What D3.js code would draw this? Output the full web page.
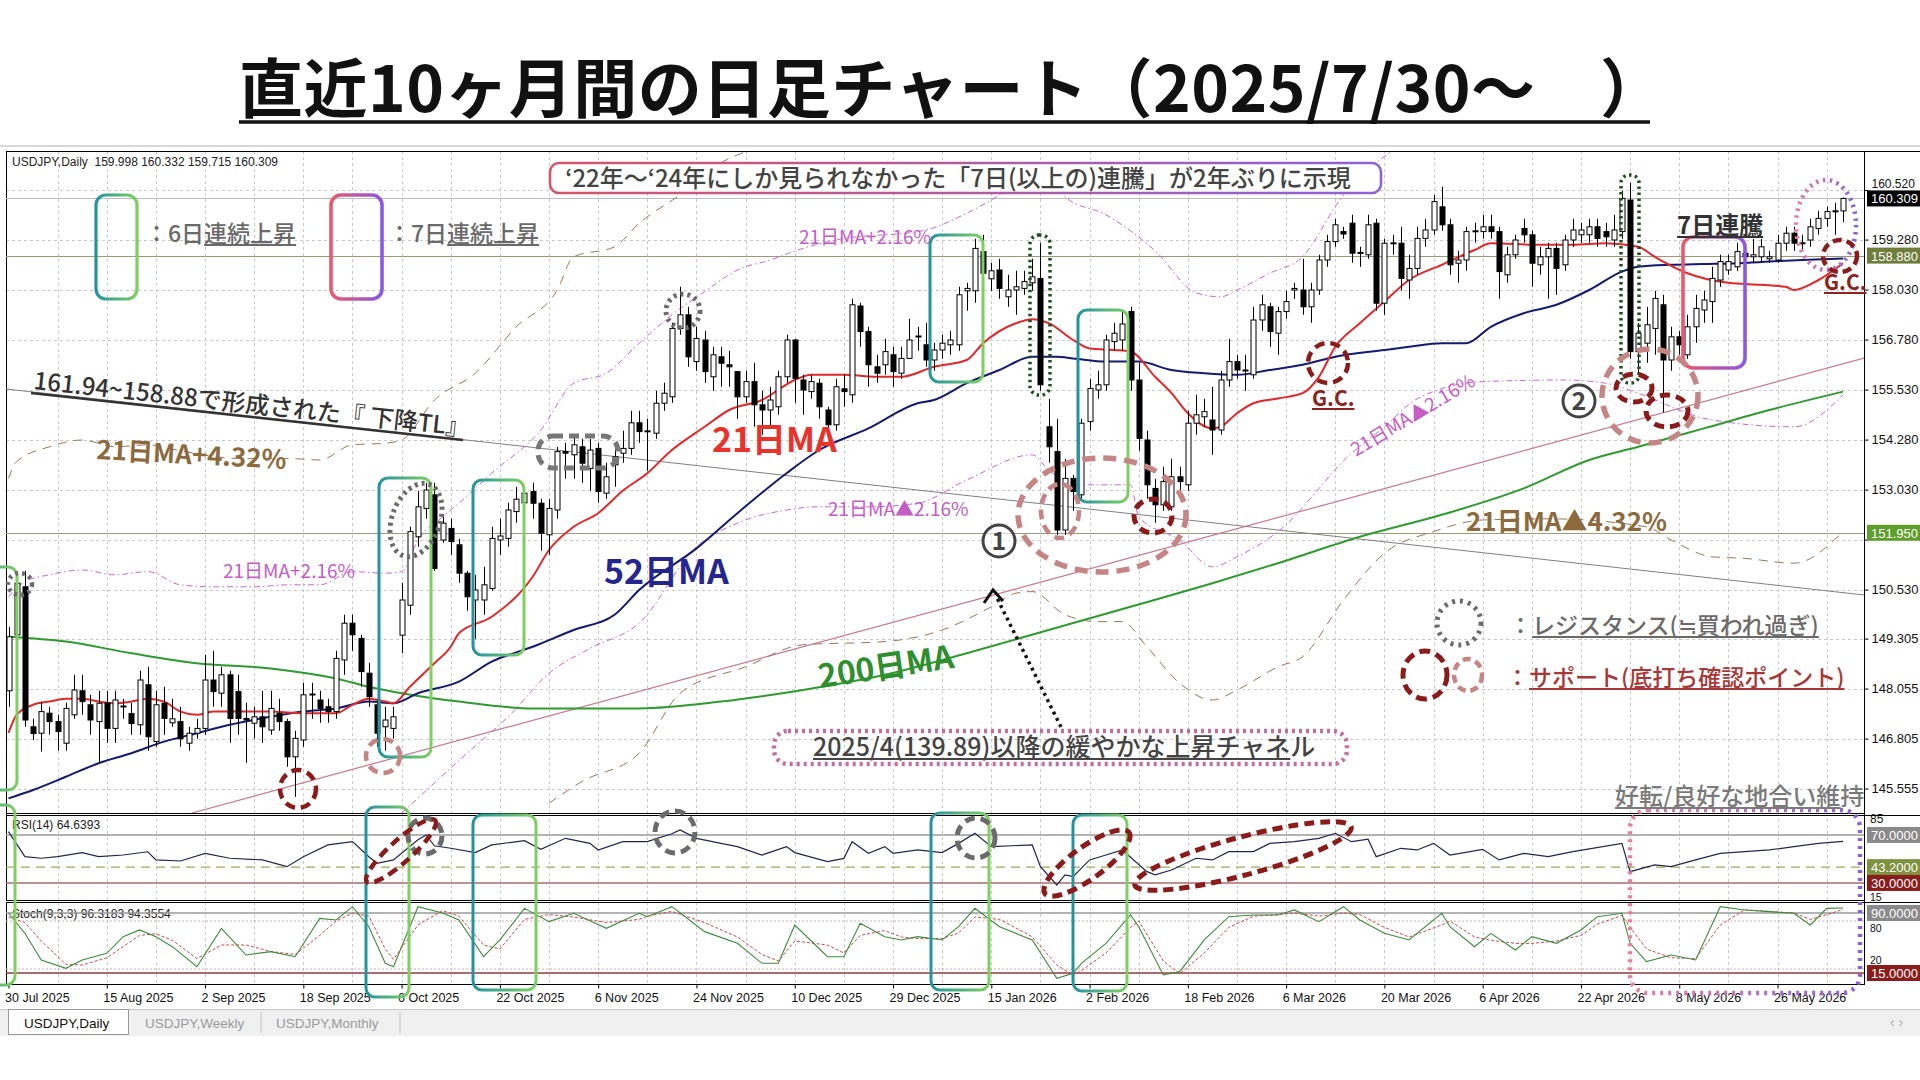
<!DOCTYPE html>
<html>
<head>
<meta charset="utf-8">
<script src="https://cdn.jsdelivr.net/npm/d3@7/dist/d3.min.js"></script>
<style>
  body { margin: 0; background: #fff; }
  svg { display: block; }
</style>
</head>
<body>
<svg id="chart" width="1920" height="1080"></svg>
<script>
// ---- data ----
const dateTicks = ["30 Jul 2025","15 Aug 2025","2 Sep 2025","18 Sep 2025","6 Oct 2025","22 Oct 2025","6 Nov 2025","24 Nov 2025","10 Dec 2025","29 Dec 2025","15 Jan 2026","2 Feb 2026","18 Feb 2026","6 Mar 2026","20 Mar 2026","6 Apr 2026","22 Apr 2026","8 May 2026","26 May 2026"];
const dateTickBars = [0,12,24,36,48,60,72,84,96,108,120,132,144,156,168,180,192,204,216];
const priceTicks = [160.52,159.28,158.03,156.78,155.53,154.28,153.03,151.78,150.53,149.305,148.055,146.805,145.555];
const lastPrice = 160.309;
const keyLevels = [158.88, 151.95];
const rsiLevels = [70, 43.2, 30];
const stochLevels = [90, 80, 20, 15];

// [open, high, low, close] per daily bar
const candles = [
[148.0,149.6,147.6,149.35],[149.4,150.9,149.3,150.69],[150.6,151.0,147.1,147.27],[147.1,147.3,146.77,146.93],[146.94,147.73,146.48,147.48],
[147.44,147.6,146.9,147.23],[147.23,147.4,146.5,146.98],[146.69,147.7,146.5,147.56],[147.4,148.4,147.3,148.02],[148.0,148.4,147.4,147.73],
[147.65,147.9,146.9,147.27],[147.23,148.0,146.19,147.69],[147.7,148.0,146.7,147.06],[147.06,148.0,146.7,147.77],[147.6,147.8,147.3,147.62],
[147.43,147.7,146.9,147.18],[147.15,148.5,146.9,148.27],[148.15,148.6,146.5,146.85],[146.73,148.0,146.6,147.65],[147.69,148.1,146.9,147.31],
[147.2,147.8,147.1,147.3],[147.23,147.6,146.6,146.8],[146.69,147.1,146.5,146.94],[146.94,147.3,146.8,147.06],[147.06,148.9,146.9,148.27],
[148.27,149.0,147.6,147.98],[147.94,148.6,147.6,148.4],[148.4,148.5,146.7,147.31],[147.98,148.4,146.9,147.31],[147.31,147.7,146.2,147.27],
[147.19,147.6,146.8,147.35],[147.35,148.0,146.7,147.1],[147.02,148.0,146.9,147.56],[147.44,147.8,147.0,147.23],[147.23,147.3,146.1,146.35],
[146.35,147.0,145.35,146.81],[146.77,148.2,146.6,147.9],[147.9,148.2,147.3,147.92],[147.77,148.0,147.2,147.56],[147.6,147.8,147.2,147.48],
[147.48,149.0,147.3,148.81],[148.77,149.9,148.4,149.69],[149.69,149.9,149.0,149.4],[149.31,149.4,148.1,148.48],[148.44,148.7,147.6,147.85],
[147.65,147.8,146.6,146.94],[147.1,147.6,146.5,147.27],[147.06,147.6,146.8,147.35],[149.39,150.7,148.94,150.27],[150.14,152.1,149.9,151.98],
[151.85,153.0,151.6,152.6],[152.56,153.2,152.3,153.02],[152.9,153.2,151.0,151.06],[151.77,152.4,151.7,152.19],[152.06,152.3,151.4,151.73],
[151.65,151.8,150.7,150.94],[150.94,151.0,150.0,150.35],[150.27,150.9,149.3,150.52],[150.27,151.1,149.9,150.65],[150.56,152.1,150.5,151.81],
[151.77,152.3,151.4,151.87],[151.81,152.7,151.6,152.52],[152.48,153.1,152.2,152.79],[152.7,153.1,152.5,152.94],[152.98,153.2,152.3,152.69],
[152.69,152.8,151.5,151.94],[151.9,152.8,151.4,152.56],[152.52,154.1,152.3,153.98],[153.98,154.2,153.3,153.94],[153.9,154.4,153.3,154.15],
[154.1,154.3,153.2,153.69],[153.56,154.3,153.0,154.02],[154.06,154.2,152.7,152.98],[152.94,153.7,152.8,153.35],[153.65,154.1,153.1,153.85],
[153.94,154.5,153.7,154.06],[154.06,155.0,153.9,154.7],[154.7,155.0,154.2,154.48],[154.48,154.8,153.5,154.5],[154.44,155.5,154.3,155.19],
[155.19,155.7,155.0,155.44],[155.35,157.2,155.2,157.06],[157.06,158.1,156.9,157.4],[157.4,157.6,156.1,156.35],[156.23,157.1,156.0,156.81],
[156.77,157.0,155.7,155.98],[155.85,156.6,155.5,156.4],[156.35,156.6,155.6,156.19],[156.15,156.5,155.6,156.1],[155.98,156.0,154.8,155.35],
[155.35,156.0,155.2,155.73],[155.73,156.2,154.6,155.15],[155.15,155.5,154.4,155.02],[155.02,155.6,154.6,155.27],[155.1,156.0,154.9,155.85],
[155.85,156.9,155.7,156.77],[156.77,156.8,155.2,155.81],[155.77,155.9,154.9,155.52],[155.48,155.9,155.3,155.73],[155.69,155.8,154.8,155.1],
[155.02,155.1,154.5,154.65],[154.65,155.8,154.5,155.6],[155.55,155.9,155.1,155.48],[155.4,157.8,155.2,157.65],[157.62,157.7,156.6,156.98],
[156.98,157.1,155.6,156.15],[156.1,156.4,155.7,155.94],[156.15,156.8,155.9,156.48],[156.4,156.6,155.6,155.98],[155.94,156.6,155.8,156.31],
[156.31,157.3,156.3,156.77],[156.85,157.1,156.5,156.87],[156.65,157.2,156.1,156.27],[156.27,156.7,156.0,156.52],[156.52,156.9,156.3,156.69],
[156.65,157.0,156.4,156.77],[156.65,158.1,156.5,157.9],[158.0,158.2,157.5,158.06],[158.0,159.3,157.7,159.06],[158.98,159.4,158.2,158.44],
[158.3,158.7,158.0,158.5],[158.52,158.8,157.8,158.06],[157.85,158.4,157.6,158.02],[158.02,158.5,157.4,158.1],[158.06,158.5,157.9,158.23],
[158.2,158.8,158.0,158.35],[158.31,159.2,155.5,155.65],[154.6,155.3,153.7,154.1],[153.98,154.8,151.9,152.02],[152.02,153.8,151.9,153.31],
[153.31,153.4,152.5,152.98],[152.9,154.8,152.8,154.69],[154.73,155.8,154.5,155.56],[155.52,156.0,155.3,155.65],[155.65,156.9,155.5,156.77],
[156.73,157.2,156.5,156.94],[156.77,157.5,156.5,157.17],[157.48,157.6,155.5,155.77],[155.77,156.2,154.0,154.31],[154.27,154.5,152.8,153.15],
[153.06,153.3,152.2,152.65],[152.65,153.6,152.5,153.23],[152.6,153.8,152.5,153.35],[153.35,153.6,153.0,153.23],[153.15,155.0,153.0,154.69],
[154.69,155.4,154.4,154.9],[154.85,155.3,154.6,154.98],[154.77,155.6,153.9,154.52],[154.52,156.0,154.4,155.77],[155.77,156.8,155.6,156.23],
[156.23,156.4,155.8,156.02],[156.0,156.4,155.5,156.02],[155.9,157.6,155.8,157.27],[157.27,157.9,157.0,157.65],[157.6,157.7,156.6,156.98],
[156.94,157.6,156.4,157.48],[157.48,158.0,157.3,157.73],[158.02,158.2,157.8,158.06],[158.02,158.8,157.4,157.6],[157.6,158.2,157.2,158.02],
[158.02,158.9,157.9,158.77],[158.77,159.4,158.6,159.23],[159.23,159.8,159.1,159.65],[159.48,159.6,159.3,159.42],[159.69,159.9,158.7,158.94],
[158.94,159.1,158.6,158.96],[158.9,159.9,158.8,159.65],[159.69,159.8,157.5,157.69],[157.69,159.3,157.4,159.19],[159.19,159.4,158.9,159.2],
[159.19,159.6,158.0,158.31],[158.27,158.9,157.8,158.56],[158.56,159.6,158.4,159.31],[159.31,159.8,159.1,159.52],[159.52,160.4,159.4,160.23],
[160.1,160.6,159.5,159.65],[159.65,159.8,158.4,158.65],[158.69,159.0,158.2,158.77],[158.77,159.6,158.5,159.48],[159.48,159.7,159.2,159.5],
[159.48,159.9,159.3,159.6],[159.6,159.9,159.3,159.48],[159.48,159.6,157.8,158.48],[158.4,159.1,158.2,158.9],[158.9,159.4,158.8,159.27],
[159.56,159.8,159.2,159.4],[159.4,159.5,158.1,158.69],[158.65,159.1,158.4,158.85],[158.85,159.2,157.8,159.06],[159.06,159.2,157.9,158.56],
[158.65,159.4,158.5,159.27],[159.27,159.8,159.1,159.52],[159.4,159.7,159.2,159.52],[159.4,159.8,159.2,159.6],[159.6,159.8,159.1,159.31],
[159.48,159.7,159.1,159.35],[159.27,159.9,159.1,159.52],[159.48,160.5,159.3,160.31],[160.27,160.7,156.3,156.48],[156.48,157.2,155.9,156.94],
[156.69,157.6,156.2,157.15],[157.06,158.0,156.4,157.81],[157.65,157.9,154.96,156.27],[156.27,157.1,156.0,156.85],[156.85,157.0,156.4,156.65],
[156.4,157.4,156.3,157.1],[157.1,157.9,156.7,157.56],[157.52,158.0,157.2,157.77],[157.73,158.6,157.2,158.31],[158.27,158.9,158.1,158.73],
[158.52,158.9,158.4,158.73],[158.6,159.2,158.5,158.98],[158.94,159.1,158.7,158.85],[158.85,159.3,158.7,158.9],[158.85,159.3,158.7,159.1],
[158.8,159.0,158.7,158.85],[158.77,159.4,158.7,159.19],[159.19,159.6,159.0,159.44],[159.44,159.6,159.0,159.19],[159.2,159.4,159.0,159.18],
[159.27,159.8,159.1,159.6],[159.56,160.0,159.4,159.81],[159.81,160.1,159.6,159.98],[159.98,160.2,159.4,160.0],[159.998,160.332,159.715,160.309]
];

// moving averages and envelopes, [bar, price]
const ma21 = [[0,146.95],[1,147.4],[3,147.65],[5,147.73],[7,147.8],[9,147.8],[11,147.73],[13,147.69],[15,147.73],[17,147.8],[19,147.73],[21,147.48],[23,147.4],[25,147.48],[28,147.48],[32,147.48],[36,147.44],[40,147.44],[42,147.65],[44,147.8],[46,147.73],[47,147.69],[49,148.1],[52,148.69],[54,149.1],[55,149.44],[59,149.85],[64,150.85],[66,151.52],[69,152.1],[72,152.44],[75,153.0],[78,153.44],[81,154.02],[85,154.6],[88,155.02],[92,155.27],[96,155.77],[98,155.9],[102,155.9],[106,155.85],[109,155.85],[113,156.1],[117,156.27],[119,156.69],[123,157.19],[125,157.29],[127,157.19],[130,156.77],[132,156.56],[135,156.52],[137,156.48],[140,155.85],[142,155.44],[144,154.94],[147,154.56],[148,154.6],[150,154.94],[152,155.19],[155,155.31],[158,155.44],[160,155.85],[162,156.6],[165,157.19],[168,157.73],[171,158.27],[175,158.65],[179,159.02],[181,159.19],[187,159.15],[191,159.15],[195,159.19],[199,159.1],[201,158.85],[205,158.44],[210,158.2],[214,158.15],[217,158.1],[218,158.02],[221,158.27],[224,158.69]];
const ma52 = [[0,145.31],[3,145.52],[7,145.85],[11,146.19],[15,146.44],[19,146.73],[23,146.94],[27,147.15],[32,147.35],[36,147.48],[40,147.56],[44,147.73],[47,147.69],[50,147.94],[55,148.23],[59,148.73],[64,149.1],[69,149.52],[74,149.9],[77,150.52],[84,151.56],[89,152.44],[95,153.44],[99,154.02],[105,154.56],[111,155.19],[113,155.27],[117,155.69],[121,156.02],[125,156.35],[128,156.35],[130,156.31],[134,156.23],[138,156.23],[142,156.02],[146,155.94],[150,155.9],[154,156.02],[158,156.15],[162,156.35],[168,156.52],[171,156.6],[175,156.69],[178,156.69],[181,157.1],[185,157.44],[189,157.65],[193,158.02],[197,158.48],[199,158.6],[203,158.65],[207,158.67],[211,158.69],[215,158.73],[219,158.77],[224,158.81]];
const ma200 = [[0,149.35],[7,149.23],[15,148.94],[23,148.69],[32,148.56],[40,148.31],[44,148.1],[48,147.94],[52,147.81],[55,147.73],[64,147.56],[77,147.56],[87,147.73],[97,148.02],[107,148.4],[117,148.94],[127,149.52],[137,150.1],[147,150.69],[155,151.19],[165,151.85],[175,152.4],[185,153.06],[193,153.77],[199,154.1],[207,154.56],[215,155.02],[224,155.48]];
const envUp2 = [[0,150.35],[2,150.73],[5,150.9],[9,151.02],[13,150.9],[17,150.98],[21,150.65],[25,150.6],[30,150.6],[34,150.65],[38,150.65],[42,150.98],[46,150.94],[48,150.98],[50,151.77],[53,152.35],[55,152.69],[59,153.44],[65,154.52],[69,155.69],[73,155.94],[77,156.69],[81,157.4],[85,157.98],[89,158.52],[93,158.77],[97,159.06],[101,159.27],[112,159.52],[117,159.94],[120,160.27],[122,160.52],[127,160.9],[129,160.35],[134,159.9],[140,159.0],[145,157.95],[148,157.85],[150,158.02],[154,158.44],[158,158.85],[162,160.1],[163,160.4],[169,161.52],[172,162.0],[182,162.6],[194,162.6],[206,161.8],[216,161.55],[224,162.0]];
const envDn2 = [[48,144.94],[56,146.44],[61,147.35],[66,148.44],[71,149.06],[77,149.69],[84,151.6],[89,152.19],[95,152.52],[99,152.6],[105,152.6],[111,152.69],[117,153.27],[125,153.9],[127,153.52],[131,153.15],[137,153.15],[138,152.35],[143,151.77],[147,151.1],[150,151.35],[155,151.98],[164,153.94],[168,154.6],[172,155.3],[180,155.73],[190,155.77],[195,155.69],[199,155.44],[205,154.94],[207,154.81],[218,154.6],[224,155.4]];
const envUp4 = [[0,153.31],[1,153.73],[5,154.1],[9,154.27],[13,154.1],[17,154.15],[21,154.0],[28,153.81],[34,153.81],[38,153.77],[42,154.15],[46,154.19],[48,154.27],[52,155.27],[57,155.94],[62,157.1],[67,158.02],[69,158.85],[74,159.1],[77,159.69],[82,160.4],[87,161.2],[92,161.6]];
const envDn4 = [[66,145.19],[70,145.73],[77,146.44],[82,147.94],[90,148.6],[97,149.15],[107,149.23],[114,149.52],[120,150.1],[123,150.44],[125,150.48],[129,149.9],[133,149.73],[136,149.73],[139,149.1],[143,148.19],[147,147.77],[150,148.02],[155,148.6],[158,148.85],[163,150.27],[168,151.44],[174,151.98],[180,152.27],[188,152.3],[200,152.1],[203,151.77],[208,151.35],[212,151.31],[218,151.19],[224,151.98]];

// trend lines, [bar, price] end points
const downTL = [[-0.3,155.545],[226.6,150.395]];
const upChannel = [[22.4,144.945],[226.6,156.32]];

// oscillators, [bar, value]
const rsi = [[0,72.8],[2,51.9],[4,50.6],[6,51.9],[9,55.3],[11,51.9],[14,53.3],[17,56],[18,49.2],[21,48.3],[24,54.7],[27,50.6],[31,49.2],[34,43.6],[36,51.9],[39,61.7],[42,64.4],[44,51.9],[45,46.4],[47,49.2],[50,66],[51,70],[52,61],[54,58.9],[57,55.3],[59,61.7],[63,65.3],[65,58.1],[68,67.2],[71,63],[72,57.5],[75,64.4],[78,64.4],[81,71],[82,74.2],[84,67.2],[87,63],[89,60.3],[92,53.3],[95,60.3],[96,55.3],[100,47.8],[102,50.5],[103,64.4],[105,54.7],[107,60.3],[108,54.7],[111,57.5],[114,55.3],[116,63],[118,71.4],[120,60.3],[125,61.7],[126,43.6],[128,28.3],[129,36.7],[130,35.3],[132,49.2],[134,53.3],[136,57.5],[139,39.4],[140,36.7],[142,40.8],[145,50.6],[147,49.2],[149,56.1],[152,56.1],[154,63],[157,64.4],[160,67.2],[162,71.4],[164,64.4],[166,66.5],[167,51.9],[170,58.9],[172,57.5],[174,63],[176,53.3],[180,58],[182,49.2],[185,54.7],[188,51.9],[191,56.1],[197,63],[198,39.4],[201,45],[203,43.6],[206,49.2],[209,54.7],[212,56.1],[215,57.5],[218,60.3],[221,63],[224,64.6]];
const stochK = [[0,90],[2,64.6],[4,31.3],[7,20.8],[9,31.3],[12,39.6],[14,60.4],[16,68.8],[18,60.4],[20,47.9],[23,22.9],[26,70.8],[29,37.5],[32,41.7],[35,35.4],[38,83.3],[40,81.3],[42,97.9],[44,72.9],[46,27.1],[47,22.9],[50,97.9],[53,90],[55,81.3],[58,35.4],[60,56.3],[63,95.8],[66,79.2],[69,89.6],[73,70.8],[77,89.6],[78,85.4],[81,97.9],[85,66.7],[89,52.1],[92,27.1],[94,27.1],[96,75],[100,35.4],[102,35.4],[104,77.1],[107,60.4],[109,56.3],[111,60.4],[114,56.3],[116,72.9],[118,95.8],[121,72.9],[124,60.4],[125,56.3],[128,8.3],[130,14.6],[131,27.1],[134,52.1],[137,87.5],[138,72.9],[141,12.5],[143,16.7],[146,56.3],[149,85.4],[152,87.5],[155,87.5],[157,93.8],[160,79.2],[163,97.9],[165,81.3],[168,64.6],[171,56.3],[175,89.6],[176,72.9],[179,47.9],[181,64.6],[184,43.8],[186,60.4],[189,52.1],[192,68.8],[194,85.4],[197,89.6],[198,52.1],[200,29.2],[203,37.5],[206,31.3],[209,97.9],[212,93.8],[215,91.7],[218,89.6],[220,75],[222,95.8],[224,96.3]];
const stochD = [[0,85],[2,78],[4,55],[7,26],[9,25],[12,34],[14,48],[16,62],[18,64],[20,56],[23,33],[26,50],[29,50],[32,42],[35,38],[38,62],[40,80],[42,90],[44,86],[46,45],[47,32],[50,75],[53,93],[55,86],[58,50],[60,45],[63,82],[66,88],[69,85],[73,78],[77,82],[78,86],[81,92],[85,78],[89,60],[92,38],[94,30],[96,55],[100,50],[102,40],[104,62],[107,68],[109,60],[111,58],[114,58],[116,65],[118,85],[121,82],[124,66],[125,60],[128,25],[130,12],[131,18],[134,40],[137,72],[138,80],[141,30],[143,14],[146,40],[149,72],[152,86],[155,88],[157,90],[160,86],[163,90],[165,88],[168,72],[171,60],[175,75],[176,80],[179,60],[181,56],[184,52],[186,52],[189,55],[192,62],[194,76],[197,87],[198,72],[200,45],[203,34],[206,33],[209,75],[212,94],[215,92],[218,90],[220,82],[222,88],[224,94.4]];

// ---- layout ----
const JP = "'Noto Sans CJK JP', 'Noto Sans', sans-serif";
const MT = "'Liberation Sans', Arial, sans-serif";
const plotL = 6, plotR = 1864;
const mainT = 151, mainB = 813, rsiT = 813, rsiB = 900, stoT = 902, stoB = 984;

const svg = d3.select("#chart");
const x = d3.scaleLinear().domain([0, 224]).range([8.5, 8.5 + 224 * 8.19]);
const y = d3.scaleLinear().domain([144.945, 161.495]).range([mainB, mainT]);
const yR = d3.scaleLinear().domain([15.8, 88.3]).range([rsiB, rsiT]);
const yS = d3.scaleLinear().domain([1.25, 103.75]).range([stoB, stoT]);

const defs = svg.append("defs");
function grad(id, c1, c2) {
  const g = defs.append("linearGradient").attr("id", id).attr("x1", 0).attr("x2", 1).attr("y1", 0).attr("y2", 0);
  g.append("stop").attr("offset", 0).attr("stop-color", c1);
  g.append("stop").attr("offset", 1).attr("stop-color", c2);
}
grad("gTG", "#23939f", "#7fcf62");
grad("gRP", "#e8596b", "#8b58e4");
grad("gBan", "#d4566a", "#8d62d8");
grad("gPP", "#e57f9f", "#8a62d8");
function clip(id, t, b) {
  defs.append("clipPath").attr("id", id).append("rect").attr("x", plotL).attr("y", t).attr("width", plotR - plotL).attr("height", b - t);
}
clip("cMain", mainT, mainB); clip("cRsi", rsiT, rsiB); clip("cSto", stoT, stoB);

svg.append("rect").attr("width", 1920).attr("height", 1080).attr("fill", "#fff");

// title
svg.append("text").attr("x", 239).attr("y", 112).text("直近10ヶ月間の日足チャート（2025/7/30～　）")
  .attr("font-family", JP).attr("font-size", 64).attr("font-weight", 700).attr("fill", "#111")
  .attr("textLength", 1425).attr("lengthAdjust", "spacing");
svg.append("line").attr("x1", 239).attr("x2", 1650).attr("y1", 122).attr("y2", 122).attr("stroke", "#111").attr("stroke-width", 3.5);

// window frame
svg.append("line").attr("x1", 0).attr("x2", 1920).attr("y1", 146).attr("y2", 146).attr("stroke", "#d8d8d8").attr("stroke-width", 2);

// grid
const grid = svg.append("g");
const gridBars = d3.range(6, 225, 6);
[[mainT, mainB], [rsiT, rsiB], [stoT, stoB]].forEach(([t, b]) => {
  grid.selectAll(null).data(gridBars).join("line")
    .attr("x1", d => Math.round(x(d)) + 0.5).attr("x2", d => Math.round(x(d)) + 0.5)
    .attr("y1", t).attr("y2", b).attr("stroke", "#c9c9c9").attr("stroke-dasharray", "3,3");
});
grid.selectAll(null).data(priceTicks).join("line")
  .attr("x1", plotL).attr("x2", plotR).attr("y1", d => Math.round(y(d)) + 0.5).attr("y2", d => Math.round(y(d)) + 0.5)
  .attr("stroke", "#c9c9c9").attr("stroke-dasharray", "3,3");

// panel frames
[[mainT, mainB], [rsiT, rsiB], [stoT, stoB]].forEach(([t, b]) => {
  svg.append("rect").attr("x", plotL + 0.5).attr("y", t + 0.5).attr("width", plotR - plotL).attr("height", b - t)
    .attr("fill", "none").attr("stroke", "#000").attr("stroke-width", 1);
});
svg.append("line").attr("x1", plotR).attr("x2", 1920).attr("y1", mainT + 0.5).attr("y2", mainT + 0.5).attr("stroke", "#000");
svg.append("line").attr("x1", plotL).attr("x2", 1920).attr("y1", mainB + 2.5).attr("y2", mainB + 2.5).attr("stroke", "#000");
svg.append("line").attr("x1", plotL).attr("x2", 1920).attr("y1", rsiB + 2.5).attr("y2", rsiB + 2.5).attr("stroke", "#000");

// ---- main panel lines ----
const gm = svg.append("g").attr("clip-path", "url(#cMain)");
const line = d3.line().x(d => x(d[0])).y(d => y(d[1])).curve(d3.curveMonotoneX);
const straight = d3.line().x(d => x(d[0])).y(d => y(d[1]));

gm.append("line").attr("x1", plotL).attr("x2", plotR).attr("y1", Math.round(y(lastPrice)) + 0.5).attr("y2", Math.round(y(lastPrice)) + 0.5)
  .attr("stroke", "#bdbdbd").attr("stroke-width", 1);
keyLevels.forEach(v => gm.append("line").attr("x1", plotL).attr("x2", plotR)
  .attr("y1", Math.round(y(v)) + 0.5).attr("y2", Math.round(y(v)) + 0.5).attr("stroke", "#9a9a78").attr("stroke-width", 1.2));

gm.append("path").attr("d", straight(downTL)).attr("fill", "none").attr("stroke", "#808080").attr("stroke-width", 1);
gm.append("path").attr("d", straight(upChannel)).attr("fill", "none").attr("stroke", "#c47a8c").attr("stroke-width", 1.2);

gm.append("path").attr("d", line(envUp4)).attr("fill", "none").attr("stroke", "#9b7556").attr("stroke-width", 1).attr("stroke-dasharray", "9,7");
gm.append("path").attr("d", line(envDn4)).attr("fill", "none").attr("stroke", "#9b7556").attr("stroke-width", 1).attr("stroke-dasharray", "9,7");
gm.append("path").attr("d", line(envUp2)).attr("fill", "none").attr("stroke", "#c966d0").attr("stroke-width", 1).attr("stroke-dasharray", "6,3,1.5,3");
gm.append("path").attr("d", line(envDn2)).attr("fill", "none").attr("stroke", "#c966d0").attr("stroke-width", 1).attr("stroke-dasharray", "6,3,1.5,3");

gm.append("path").attr("d", line(ma200)).attr("fill", "none").attr("stroke", "#2f9a2f").attr("stroke-width", 2);
gm.append("path").attr("d", line(ma52)).attr("fill", "none").attr("stroke", "#141a6e").attr("stroke-width", 2);
gm.append("path").attr("d", line(ma21)).attr("fill", "none").attr("stroke", "#e0282a").attr("stroke-width", 2);

// candles
const gc = gm.append("g");
gc.selectAll("line").data(candles).join("line")
  .attr("x1", (d, i) => Math.round(x(i)) + 0.5).attr("x2", (d, i) => Math.round(x(i)) + 0.5)
  .attr("y1", d => y(d[1])).attr("y2", d => y(d[2])).attr("stroke", "#000").attr("stroke-width", 1);
gc.selectAll("rect").data(candles).join("rect")
  .attr("x", (d, i) => Math.round(x(i)) - 2).attr("width", 5)
  .attr("y", d => y(Math.max(d[0], d[3])))
  .attr("height", d => Math.max(1, Math.abs(y(d[0]) - y(d[3]))))
  .attr("fill", d => d[3] >= d[0] ? "#fff" : "#000").attr("stroke", "#000").attr("stroke-width", 1);

// ---- axes ----
const pAxis = svg.append("g").attr("transform", `translate(${plotR + 0.5},0)`)
  .call(d3.axisRight(y).tickValues(priceTicks).tickFormat(d3.format(".3f")).tickSize(4).tickPadding(3));
pAxis.select(".domain").attr("stroke", "#000").attr("d", `M0,${mainT}V${stoB}`);
pAxis.selectAll("text").attr("font-family", MT).attr("font-size", 13).attr("fill", "#111");
// the label under the 151.950 tag is fully covered in the reference; the top one peeks out above its tag
pAxis.selectAll(".tick text").filter(d => d === 151.78).attr("opacity", 0);
pAxis.selectAll(".tick text").filter(d => d === 160.52).attr("y", -6).attr("font-size", 12);

function tag(v, yPos, bg, fg) {
  svg.append("rect").attr("x", plotR + 3).attr("y", yPos - 8).attr("width", 1920 - plotR - 3).attr("height", 16).attr("fill", bg);
  svg.append("text").attr("x", plotR + 7).attr("y", yPos + 5).text(v).attr("font-family", MT).attr("font-size", 13).attr("fill", fg);
}
tag(d3.format(".3f")(lastPrice), y(lastPrice), "#000", "#fff");
tag(d3.format(".3f")(keyLevels[0]), y(keyLevels[0]), "#6f7d3c", "#fff");
tag(d3.format(".3f")(keyLevels[1]), y(keyLevels[1]), "#5e9e2c", "#fff");

const xAxis = svg.append("g").attr("transform", `translate(0,${stoB + 0.5})`)
  .call(d3.axisBottom(x).tickValues(dateTickBars).tickFormat((d, i) => dateTicks[i]).tickSize(4).tickPadding(2));
xAxis.select(".domain").remove();
xAxis.selectAll("text").attr("text-anchor", "start").attr("dx", -4).attr("dy", "0.9em")
  .attr("font-family", MT).attr("font-size", 12.5).attr("fill", "#111");

// ---- header texts ----
svg.append("text").attr("x", 12).attr("y", 166).text("USDJPY,Daily  159.998 160.332 159.715 160.309")
  .attr("font-family", MT).attr("font-size", 12).attr("fill", "#222").attr("xml:space", "preserve");
svg.append("text").attr("x", 12).attr("y", 829).text("RSI(14) 64.6393").attr("font-family", MT).attr("font-size", 12).attr("fill", "#222");
svg.append("text").attr("x", 12).attr("y", 918).text("Stoch(9,3,3) 96.3183 94.3554").attr("font-family", MT).attr("font-size", 12).attr("fill", "#222");

// ---- RSI panel ----
const gr = svg.append("g").attr("clip-path", "url(#cRsi)");
const rsiStyle = { 70: ["#9a9a9a", null], 43.2: ["#9aab5e", "9,6"], 30: ["#a86d6d", null] };
rsiLevels.forEach(v => gr.append("line").attr("x1", plotL).attr("x2", plotR).attr("y1", yR(v)).attr("y2", yR(v))
  .attr("stroke", rsiStyle[v][0]).attr("stroke-width", 1.4).attr("stroke-dasharray", rsiStyle[v][1]));
gr.append("path").attr("d", d3.line().x(d => x(d[0])).y(d => yR(d[1]))(rsi))
  .attr("fill", "none").attr("stroke", "#22264e").attr("stroke-width", 1.2);

// ---- Stoch panel ----
const gs = svg.append("g").attr("clip-path", "url(#cSto)");
const stoStyle = { 90: ["#9a9a9a", null, 1.4], 80: ["#d3b0b0", "2,2", 1], 20: ["#d3b0b0", "2,2", 1], 15: ["#8e3b3b", null, 1.4] };
stochLevels.forEach(v => gs.append("line").attr("x1", plotL).attr("x2", plotR).attr("y1", yS(v)).attr("y2", yS(v))
  .attr("stroke", stoStyle[v][0]).attr("stroke-width", stoStyle[v][2]).attr("stroke-dasharray", stoStyle[v][1]));
gs.append("path").attr("d", d3.line().x(d => x(d[0])).y(d => yS(d[1]))(stochD))
  .attr("fill", "none").attr("stroke", "#c8484a").attr("stroke-width", 1).attr("stroke-dasharray", "3,2");
gs.append("path").attr("d", d3.line().x(d => x(d[0])).y(d => yS(d[1]))(stochK))
  .attr("fill", "none").attr("stroke", "#3e8a3e").attr("stroke-width", 1.1);

// right labels for oscillators
function smallText(t, yb, size) { svg.append("text").attr("x", plotR + 6).attr("y", yb).text(t).attr("font-family", MT).attr("font-size", size || 12).attr("fill", "#111"); }
smallText("85", yR(85) + 6);
tag("70.0000", yR(70), "#8a8a8a", "#fff");
tag("43.2000", yR(43.2), "#7f9240", "#fff");
tag("30.0000", yR(30), "#8b1c1c", "#fff");
smallText("15", 901, 10.5);
tag("90.0000", yS(90), "#8a8a8a", "#fff");
smallText("80", 932, 10.5);
smallText("20", 964, 10.5);
tag("15.0000", yS(15), "#8b1c1c", "#fff");

// ---- annotation helpers ----
const ga = svg.append("g");
function label(xx, yb, str, o) {
  const t = ga.append("text").attr("x", xx).attr("y", yb).text(str)
    .attr("font-family", JP).attr("font-size", o.size).attr("font-weight", o.weight || 500)
    .attr("fill", o.color || "#333");
  if (o.anchor) t.attr("text-anchor", o.anchor);
  if (o.rotate) t.attr("transform", `rotate(${o.rotate},${xx},${yb})`);
  if (o.ul) {
    const n = t.node();
    const total = n.getComputedTextLength();
    const x0 = o.anchor === "middle" ? xx - total / 2 : xx;
    const off = o.ul[0] > 0 ? n.getSubStringLength(0, o.ul[0]) : 0;
    const len = n.getSubStringLength(o.ul[0], o.ul[1]);
    const l = ga.append("line").attr("x1", x0 + off).attr("x2", x0 + off + len)
      .attr("y1", yb + (o.ulGap || 4)).attr("y2", yb + (o.ulGap || 4))
      .attr("stroke", o.ulColor || o.color).attr("stroke-width", o.ulW || 2);
    if (o.rotate) l.attr("transform", `rotate(${o.rotate},${xx},${yb})`);
  }
  return t;
}
function box(x0, y0, w, h, r, stroke, sw, dash) {
  return ga.append("rect").attr("x", x0).attr("y", y0).attr("width", w).attr("height", h).attr("rx", r)
    .attr("fill", "none").attr("stroke", stroke).attr("stroke-width", sw).attr("stroke-dasharray", dash || null);
}
function ell(cx, cy, rx, ry, stroke, sw, dash, rot) {
  const e = ga.append("ellipse").attr("cx", cx).attr("cy", cy).attr("rx", rx).attr("ry", ry)
    .attr("fill", "none").attr("stroke", stroke).attr("stroke-width", sw).attr("stroke-dasharray", dash || null);
  if (rot) e.attr("transform", `rotate(${rot},${cx},${cy})`);
  return e;
}
const RES = "#6b6b6b", SUP = "#8b1b1b", SUPL = "#c58585";

// legend (top-left)
box(96, 195, 41, 104, 10, "url(#gTG)", 3.2);
label(145, 242, "：6日連続上昇", { size: 23, color: "#6a6a6a", ul: [3, 4], ulGap: 3 });
box(331, 195, 51, 104, 10, "url(#gRP)", 3.6);
label(388, 242, "：7日連続上昇", { size: 23, color: "#6a6a6a", ul: [3, 4], ulGap: 3 });

// banner
ga.append("rect").attr("x", 550).attr("y", 163).attr("width", 831).attr("height", 30).attr("rx", 9)
  .attr("fill", "#fff").attr("stroke", "url(#gBan)").attr("stroke-width", 2.6);
label(958, 187, "‘22年～‘24年にしか見られなかった「7日(以上の)連騰」が2年ぶりに示現", { size: 24, color: "#444", anchor: "middle" });

// downtrend label
ga.append("line").attr("x1", 31).attr("y1", 393).attr("x2", 463).attr("y2", 440).attr("stroke", "#333").attr("stroke-width", 2.4);
label(33, 389, "161.94~158.88で形成された『 下降TL』", { size: 24, color: "#333", rotate: 6.2 });

// envelope labels
label(96, 459, "21日MA+4.32%", { size: 26, weight: 700, color: "#8c6a3e", rotate: 3 });
label(223, 578, "21日MA+2.16%", { size: 19, weight: 400, color: "#c45dc4" });
label(799, 244, "21日MA+2.16%", { size: 19, weight: 400, color: "#c45dc4" });
label(828, 516, "21日MA▲2.16%", { size: 19, weight: 400, color: "#c45dc4" });
label(1356, 457, "21日MA▲2.16%", { size: 19, weight: 400, color: "#c45dc4", rotate: -31 });
label(1466, 531, "21日MA▲4.32%", { size: 26, weight: 700, color: "#8c6a3e" });

// MA labels
label(712, 452, "21日MA", { size: 34, weight: 700, color: "#e8322c" });
label(604, 584, "52日MA", { size: 34, weight: 700, color: "#25258f" });
label(820, 688, "200日MA", { size: 32, weight: 700, color: "#2f8f2f", rotate: -8.5 });

// 6-day / 7-day boxes (main panel)
[[-30, 567, 47, 223], [379, 478, 52, 279], [473, 480, 51, 175], [930, 235, 53, 147], [1078, 310, 50, 192]]
  .forEach(b => box(b[0], b[1], b[2], b[3], 9, "url(#gTG)", 3));
box(1683, 237, 62, 131, 10, "url(#gRP)", 3.6);
// boxes in oscillator panels
[[-30, 805, 45, 180], [366, 807, 43, 190], [473, 815, 63, 175], [931, 813, 58, 177], [1073, 815, 54, 176]]
  .forEach(b => box(b[0], b[1], b[2], b[3], 9, "url(#gTG)", 3));
box(1630, 810, 230, 183, 18, "url(#gPP)", 4.5, "3,5");
label(1615, 805, "好転/良好な地合い維持", { size: 24, color: "#7a7a7a", ul: [0, 10], ulGap: 3 });

// big-candle dotted marks
box(1030, 235, 20, 160, 9, "#1f4f1f", 3.5, "2.5,3.5");
box(1621, 175, 18, 208, 8, "#1f4f1f", 3.5, "2.5,3.5");

// resistance marks
ell(20, 584, 12, 11, RES, 4.5, "3,4");
ell(416, 520, 24, 38, RES, 5, "3,4", 20);
ell(683, 311, 17, 17, RES, 5, "3,4");
box(538, 436, 80, 32, 15, "#777", 5, "10,6");
ell(425, 836, 17, 18, RES, 5, "10,6");
ell(675, 832, 20, 21, RES, 5, "10,6");
ell(976, 838, 19, 20, RES, 5, "10,6");

// support marks
ell(298, 789, 18, 19, SUP, 4.5, "10,6");
ell(383, 756, 17, 17, SUPL, 4.5, "10,6");
ell(1102, 515, 84, 57, SUPL, 5.5, "13,8");
ell(1060, 511, 19, 27, SUPL, 4.5, "10,6");
ell(1153, 516, 19, 17, SUP, 5, "10,6");
ell(1650, 396, 48, 47, SUPL, 5.5, "13,8");
ell(1634, 388, 18, 14, SUP, 5, "10,6");
ell(1667, 411, 21, 16, SUP, 5, "10,6");
ell(401, 851, 46, 11, SUP, 4.5, "10,6", -42);
ell(1087, 863, 52, 16, SUP, 5, "10,6", -36);
ell(1243, 856, 112, 19, SUP, 5, "10,6", -15);
ell(1826, 225, 30, 45, "url(#gPP)", 4.5, "2.5,4.5");

// golden crosses
ell(1328, 363, 20, 20, SUP, 4.5, "10,6");
label(1312, 406, "G.C.", { size: 21, weight: 700, color: "#8b2323", ul: [0, 4], ulGap: 3 });
ell(1840, 256, 17, 16, SUP, 4.5, "9,5");
label(1824, 290, "G.C.", { size: 21, weight: 700, color: "#8b2323", ul: [0, 4], ulGap: 3 });

// 7-day label
label(1677, 234, "7日連騰", { size: 24, weight: 700, color: "#333", ul: [0, 4], ulGap: 3 });

// circled numbers
[[999, 541, "1"], [1579, 401, "2"]].forEach(c => {
  ga.append("circle").attr("cx", c[0]).attr("cy", c[1]).attr("r", 16).attr("fill", "#fff").attr("fill-opacity", 0.6)
    .attr("stroke", "#444").attr("stroke-width", 3);
  label(c[0], c[1] + 9, c[2], { size: 25, weight: 700, color: "#444", anchor: "middle" });
});

// channel note with arrow
ga.append("line").attr("x1", 1061).attr("y1", 727).attr("x2", 996).attr("y2", 596)
  .attr("stroke", "#111").attr("stroke-width", 3.5).attr("stroke-dasharray", "3,4");
ga.append("path").attr("d", "M984,603 L993,590 L1003,601").attr("fill", "none").attr("stroke", "#111").attr("stroke-width", 3);
box(774, 731, 573, 33, 14, "#c26f9f", 4.5, "3,4");
label(813, 756, "2025/4(139.89)以降の緩やかな上昇チャネル", { size: 25, color: "#444", ul: [0, 26], ulGap: 3 });

// legend (bottom-right)
ell(1459, 623, 22, 22, RES, 5, "3,5");
label(1509, 634, "：レジスタンス(≒買われ過ぎ)", { size: 23, color: "#6a6a6a", ul: [1, 15], ulGap: 3 });
ell(1425, 675, 22, 24, SUP, 5, "11,6");
ell(1468, 675, 14, 16, SUPL, 4.5, "8,5");
label(1506, 686, "：サポート(底打ち確認ポイント)", { size: 23, color: "#a83838", ul: [1, 16], ulGap: 3 });

// ---- bottom tab bar ----
svg.append("rect").attr("x", 0).attr("y", 1009).attr("width", 1920).attr("height", 27).attr("fill", "#f0f0f0");
svg.append("line").attr("x1", 0).attr("x2", 1920).attr("y1", 1009.5).attr("y2", 1009.5).attr("stroke", "#c8c8c8");
svg.append("rect").attr("x", 8.5).attr("y", 1009.5).attr("width", 120).attr("height", 25).attr("fill", "#fff").attr("stroke", "#999");
svg.append("text").attr("x", 24).attr("y", 1028).text("USDJPY,Daily").attr("font-family", MT).attr("font-size", 13.5).attr("fill", "#111");
svg.append("text").attr("x", 145).attr("y", 1028).text("USDJPY,Weekly").attr("font-family", MT).attr("font-size", 13.5).attr("fill", "#9a9a9a");
svg.append("text").attr("x", 276).attr("y", 1028).text("USDJPY,Monthly").attr("font-family", MT).attr("font-size", 13.5).attr("fill", "#9a9a9a");
[261, 400].forEach(xx => svg.append("line").attr("x1", xx).attr("x2", xx).attr("y1", 1012).attr("y2", 1033).attr("stroke", "#c0c0c0"));
svg.append("text").attr("x", 1890).attr("y", 1027).text("‹  ›").attr("font-family", MT).attr("font-size", 14).attr("fill", "#aaa");
</script>
</body>
</html>
